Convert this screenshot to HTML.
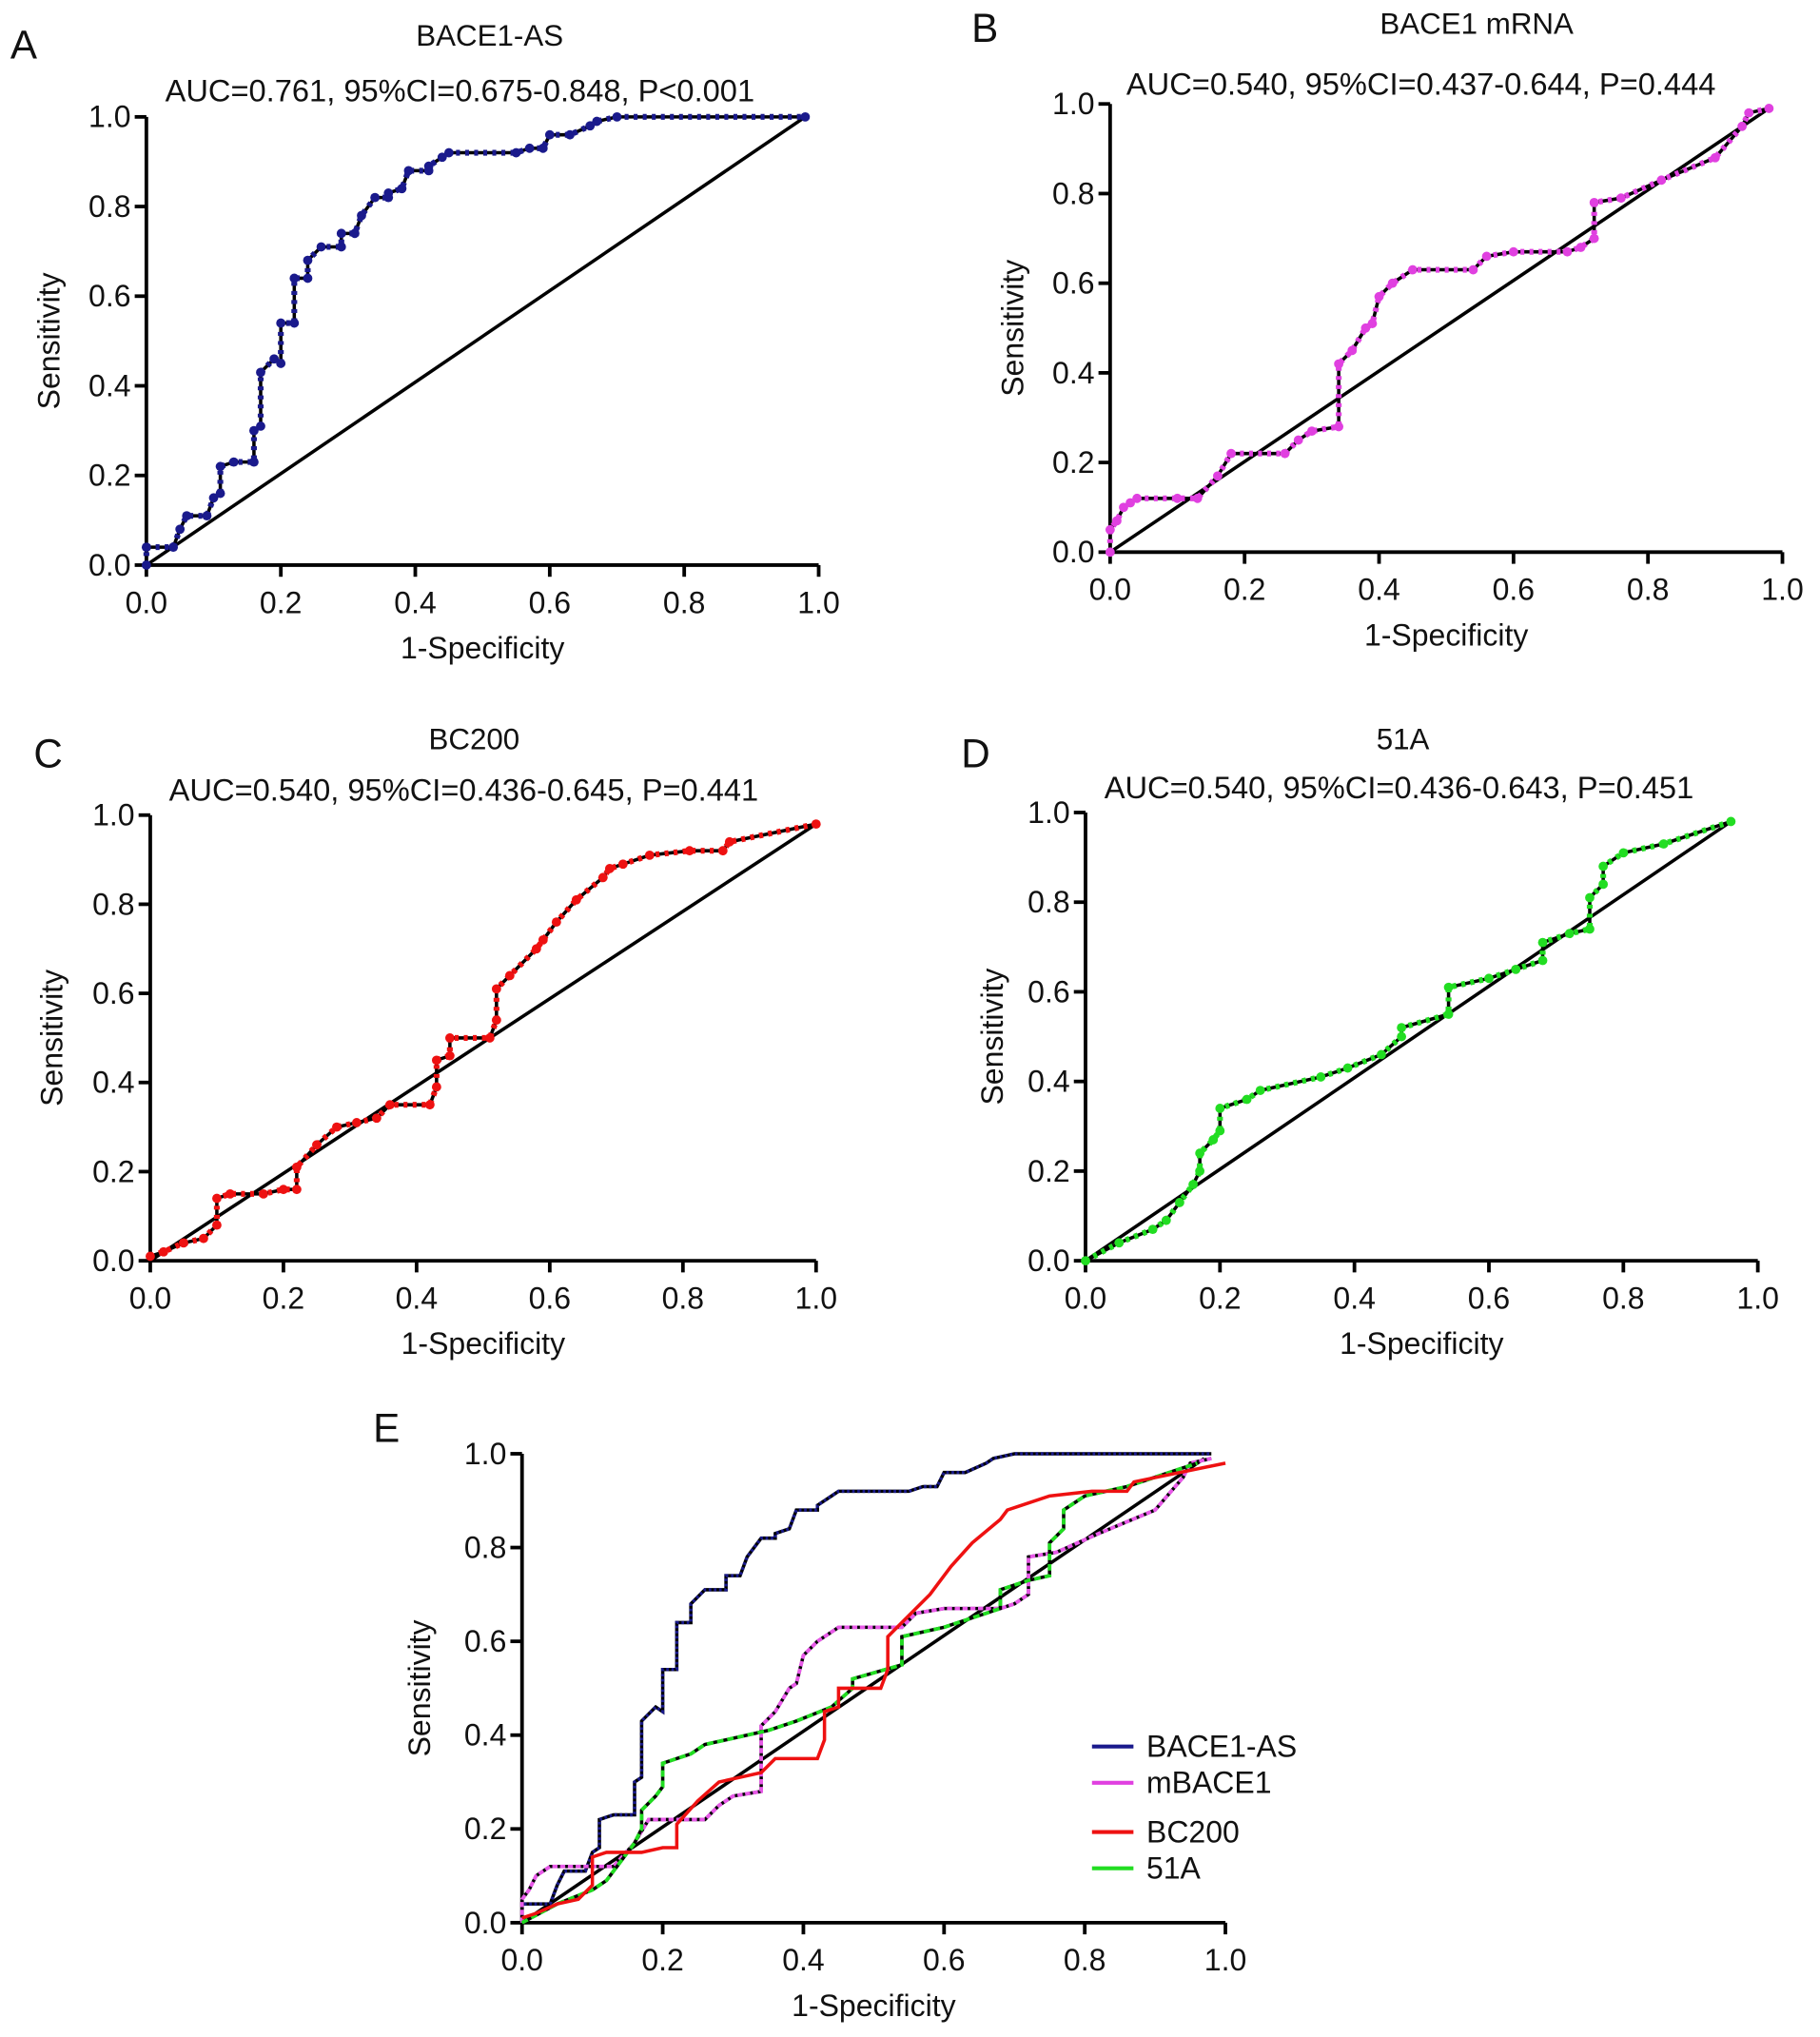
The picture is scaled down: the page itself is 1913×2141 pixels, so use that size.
<!DOCTYPE html>
<html><head><meta charset="utf-8">
<style>
html,body{margin:0;padding:0;background:#fff;}
svg{display:block;}
text{font-family:"Liberation Sans",Arial,sans-serif;fill:#111;}
</style></head>
<body>
<svg id="fig" width="1913" height="2141" viewBox="0 0 1405 1572" xmlns="http://www.w3.org/2000/svg"></svg>
<script>
// ---- data (1-specificity, sensitivity) ----
const bace1asFpr = [0,0,0.04,0.05,0.06,0.09,0.10,0.11,0.11,0.13,0.16,0.16,0.17,0.17,0.19,0.20,0.20,0.22,0.22,0.24,0.24,0.26,0.29,0.29,0.31,0.32,0.34,0.36,0.36,0.38,0.39,0.42,0.42,0.44,0.45,0.55,0.57,0.59,0.60,0.63,0.66,0.67,0.70,0.98];
const bace1asTpr = [0,0.04,0.04,0.08,0.11,0.11,0.15,0.16,0.22,0.23,0.23,0.30,0.31,0.43,0.46,0.45,0.54,0.54,0.64,0.64,0.68,0.71,0.71,0.74,0.74,0.78,0.82,0.82,0.83,0.84,0.88,0.88,0.89,0.91,0.92,0.92,0.93,0.93,0.96,0.96,0.98,0.99,1.0,1.0];
const mrnaFpr = [0,0,0.01,0.02,0.03,0.04,0.10,0.13,0.16,0.18,0.26,0.28,0.30,0.34,0.34,0.36,0.38,0.39,0.40,0.42,0.45,0.54,0.56,0.60,0.68,0.70,0.72,0.72,0.76,0.82,0.90,0.94,0.95,0.98];
const mrnaTpr = [0,0.05,0.07,0.10,0.11,0.12,0.12,0.12,0.17,0.22,0.22,0.25,0.27,0.28,0.42,0.45,0.50,0.51,0.57,0.60,0.63,0.63,0.66,0.67,0.67,0.68,0.70,0.78,0.79,0.83,0.88,0.95,0.98,0.99];
const bc200Fpr = [0,0.02,0.05,0.08,0.10,0.10,0.12,0.17,0.20,0.22,0.22,0.25,0.28,0.31,0.34,0.36,0.42,0.43,0.43,0.45,0.45,0.51,0.52,0.52,0.54,0.58,0.59,0.61,0.64,0.68,0.69,0.71,0.75,0.81,0.86,0.87,1.0];
const bc200Tpr = [0.01,0.02,0.04,0.05,0.08,0.14,0.15,0.15,0.16,0.16,0.21,0.26,0.30,0.31,0.32,0.35,0.35,0.39,0.45,0.46,0.50,0.50,0.54,0.61,0.64,0.70,0.72,0.76,0.81,0.86,0.88,0.89,0.91,0.92,0.92,0.94,0.98];
const a51Fpr = [0,0.05,0.10,0.12,0.14,0.16,0.17,0.17,0.19,0.20,0.20,0.24,0.26,0.35,0.39,0.44,0.47,0.47,0.54,0.54,0.60,0.64,0.68,0.68,0.72,0.75,0.75,0.77,0.77,0.80,0.86,0.96];
const a51Tpr = [0,0.04,0.07,0.09,0.13,0.17,0.20,0.24,0.27,0.29,0.34,0.36,0.38,0.41,0.43,0.46,0.50,0.52,0.55,0.61,0.63,0.65,0.67,0.71,0.73,0.74,0.81,0.84,0.88,0.91,0.93,0.98];
const tickLabels = ["0.0","0.2","0.4","0.6","0.8","1.0"];
const tickValues = [0,0.2,0.4,0.6,0.8,1.0];

const NS="http://www.w3.org/2000/svg";
const svg=document.getElementById('fig');
function mk(tag,attrs,parent,txt){const e=document.createElementNS(NS,tag);for(const k in attrs)e.setAttribute(k,attrs[k]);if(txt!==undefined)e.textContent=txt;(parent||svg).appendChild(e);return e;}

function panel(cfg){
  const g=mk('g',{});
  
  
  const sx=v=>cfg.x0+(cfg.x1-cfg.x0)*v, sy=v=>cfg.y0-(cfg.y0-cfg.y1)*v;
  const L=mk('text',{x:cfg.lx,y:cfg.ly,'font-size':31},g,cfg.letter);
  
  
  if(cfg.title){const t=mk('text',{x:cfg.tx,y:cfg.ty,'font-size':23,'text-anchor':'middle'},g,cfg.title);
    }
  if(cfg.auc){const t=mk('text',{x:cfg.ax,y:cfg.ay,'font-size':23.5,'text-anchor':'middle',textLength:455,lengthAdjust:'spacingAndGlyphs'},g,cfg.auc);
    }
  const ax=mk('path',{d:`M${cfg.x0},${cfg.y1}V${cfg.y0}H${cfg.x1}`,stroke:'#000','stroke-width':2.8,fill:'none'},g);
  
  tickValues.forEach((v,i)=>{
    mk('line',{x1:sx(v),x2:sx(v),y1:cfg.y0,y2:cfg.y0+9,stroke:'#000','stroke-width':2.8},g);
    const xt=mk('text',{x:sx(v),y:cfg.y0+37,'font-size':23.5,'text-anchor':'middle'},g,tickLabels[i]);
    
    mk('line',{x1:cfg.x0-9,x2:cfg.x0,y1:sy(v),y2:sy(v),stroke:'#000','stroke-width':2.8},g);
    const yt=mk('text',{x:cfg.x0-12,y:sy(v)+8,'font-size':23.5,'text-anchor':'end'},g,tickLabels[i]);
    
  });
  const xl=mk('text',{x:(cfg.x0+cfg.x1)/2,y:cfg.y0+72,'font-size':23.5,'text-anchor':'middle'},g,'1-Specificity');
  
  const yc=(cfg.y0+cfg.y1)/2;
  const yl=mk('text',{x:cfg.ylx,y:yc,'font-size':23.5,'text-anchor':'middle',transform:`rotate(-90 ${cfg.ylx} ${yc})`},g,'Sensitivity');
  
  if(cfg.diag){
    const dl=mk('line',{x1:sx(0),y1:sy(0),x2:sx(cfg.diag[0]),y2:sy(cfg.diag[1]),stroke:'#000','stroke-width':2.6},g);
    
  }
  cfg.series.forEach(s=>{
    const n=s.fx.length;
    if(!cfg.diag){
      const dl=mk('line',{x1:sx(0),y1:sy(0),x2:sx(s.fx[n-1]),y2:sy(s.ty[n-1]),stroke:'#000','stroke-width':2.6},g);
      
    }
    const pts=s.fx.map((f,i)=>sx(f)+','+sy(s.ty[i])).join(' ');
    if(s.solid){
      const pl=mk('polyline',{points:pts,fill:'none',stroke:s.color,'stroke-width':2.6},g);
      
    } else {
      const pb=mk('polyline',{points:pts,fill:'none',stroke:'#000','stroke-width':2.6},g);
      
      const pc=mk('polyline',{points:pts,fill:'none',stroke:s.color,'stroke-width':s.w||3,'stroke-dasharray':s.dash||'3 4'},g);
      
    }
    if(s.dots){s.fx.forEach((f,i)=>{
      const c=mk('circle',{cx:sx(f),cy:sy(s.ty[i]),r:3.6,fill:s.color},g);
      
    });}
  });
  return g;
}

panel({name:'panel-a',letter:'A',lx:8,ly:45,title:'BACE1-AS',tx:378,ty:35,auc:'AUC=0.761, 95%CI=0.675-0.848, P<0.001',ax:355,ay:78,
  x0:113,x1:632,y0:436,y1:90,ylx:46,series:[{key:'bace1-as',fx:bace1asFpr,ty:bace1asTpr,color:'#1a1a8c',dots:true,w:4.5}]});
panel({name:'panel-b',letter:'B',lx:750,ly:32,title:'BACE1 mRNA',tx:1140,ty:26,auc:'AUC=0.540, 95%CI=0.437-0.644, P=0.444',ax:1097,ay:73,
  x0:857,x1:1376,y0:426,y1:80,ylx:790,series:[{key:'bace1-mrna',fx:mrnaFpr,ty:mrnaTpr,color:'#e040e0',dots:true,w:4.5}]});
panel({name:'panel-c',letter:'C',lx:26,ly:592,title:'BC200',tx:366,ty:578,auc:'AUC=0.540, 95%CI=0.436-0.645, P=0.441',ax:358,ay:618,
  x0:116,x1:630,y0:973,y1:629,ylx:48,series:[{key:'bc200',fx:bc200Fpr,ty:bc200Tpr,color:'#ee1111',dots:true,w:4.5}]});
panel({name:'panel-d',letter:'D',lx:742,ly:592,title:'51A',tx:1083,ty:578,auc:'AUC=0.540, 95%CI=0.436-0.643, P=0.451',ax:1080,ay:616,
  x0:838,x1:1357,y0:973,y1:627,ylx:774,series:[{key:'51a',fx:a51Fpr,ty:a51Tpr,color:'#22dd22',dots:true,w:4.5}]});
panel({name:'panel-e',letter:'E',lx:288,ly:1113,title:null,auc:null,diag:[0.97,0.99],
  x0:403,x1:946,y0:1484,y1:1122,ylx:332,series:[
    {key:'combined-bace1-as',fx:bace1asFpr,ty:bace1asTpr,color:'#1a1a8c',w:2.5,dash:'2 2'},
    {key:'combined-mbace1',fx:mrnaFpr,ty:mrnaTpr,color:'#e85ae8',w:2.8,dash:'4 2'},
    {key:'combined-51a',fx:a51Fpr,ty:a51Tpr,color:'#22dd22',w:2.8,dash:'5 3'},
    {key:'combined-bc200',fx:bc200Fpr,ty:bc200Tpr,color:'#ee1111',solid:true}]});

const legNames=['BACE1-AS','mBACE1','BC200','51A'];
const legColors=['#1a1a8c','#e040e0','#ee1111','#22dd22'];
const legY=[1348,1376,1414,1442];
const lg=mk('g',{});


legNames.forEach((n,i)=>{
  const e=mk('g',{},lg);
  
  
  mk('line',{x1:843,x2:875,y1:legY[i],y2:legY[i],stroke:legColors[i],'stroke-width':3},e);
  mk('text',{x:885,y:legY[i]+8,'font-size':23.5},e,n);
});
</script>
</body></html>
